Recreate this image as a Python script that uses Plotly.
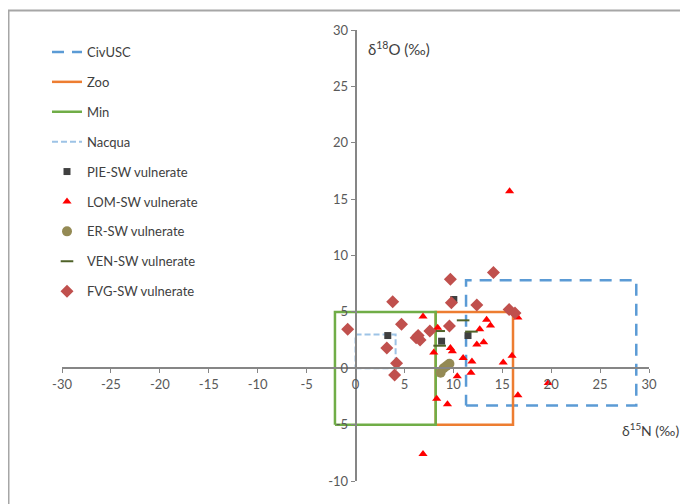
import plotly.graph_objects as go

# ---- data ----
civusc_x = [11.3, 28.7, 28.7, 11.3, 11.3]
civusc_y = [-3.3, -3.3, 7.8, 7.8, -3.3]
zoo_x = [8.2, 16.1, 16.1, 8.2, 8.2]
zoo_y = [-5, -5, 5, 5, -5]
min_x = [-2.1, 8.2, 8.2, -2.1, -2.1]
min_y = [-5, -5, 5, 5, -5]
nacqua_x = [0, 4.1, 4.1, 0, 0]
nacqua_y = [0, 0, 3, 3, 0]

pie_x = [3.3, 8.8, 11.5, 10.05]
pie_y = [2.9, 2.4, 2.9, 6.1]

lom_x = [6.9, 8.4, 8.0, 9.7, 9.9, 11.0, 11.9, 15.1, 16.0, 12.4, 13.1, 12.7, 13.4, 13.8,
         16.6, 10.4, 11.8, 8.3, 9.4, 16.6, 19.7, 6.9, 15.75]
lom_y = [4.6, 3.6, 1.4, 1.8, 1.5, 0.9, 0.6, 0.5, 1.1, 2.1, 2.3, 3.45, 4.3, 3.8,
         4.5, -0.7, -0.4, -2.7, -3.2, -2.4, -1.3, -7.6, 15.7]

er_x = [8.7, 9.0, 9.3, 9.6]
er_y = [-0.4, 0.0, 0.2, 0.4]

ven_x = [8.5, 8.6, 11.0, 11.85]
ven_y = [3.3, 2.0, 4.25, 3.25]

fvg_x = [-0.8, 3.8, 4.7, 3.2, 4.2, 4.0, 6.2, 6.6, 6.4, 7.6, 9.7, 9.8, 9.6, 12.4, 14.1, 15.7, 16.3]
fvg_y = [3.45, 5.9, 3.9, 1.8, 0.45, -0.6, 2.7, 2.5, 2.9, 3.3, 7.9, 5.8, 3.75, 5.6, 8.5, 5.2, 4.9]

x_ticks = [-30, -25, -20, -15, -10, -5, 0, 5, 10, 15, 20, 25, 30]
y_ticks = [-10, -5, 0, 5, 10, 15, 20, 25, 30]

FONT = "Lato"
TXT = "#404040"
W, H = 688, 504
# plot-area pixel box (figure coordinates; page adds an 8px body margin)
PL, PR, PT, PB = 54, 641, 22, 473
xdom = [PL / W, PR / W]
ydom = [(H - PB) / H, (H - PT) / H]

fig = go.Figure()
fig.add_trace(go.Scatter(x=civusc_x, y=civusc_y, mode="lines", name="CivUSC",
                         line=dict(color="#5B9BD5", width=2.5, dash="12px,8px"), legendgroup="a"))
fig.add_trace(go.Scatter(x=zoo_x, y=zoo_y, mode="lines", name="Zoo",
                         line=dict(color="#ED7D31", width=2.5), legendgroup="b"))
fig.add_trace(go.Scatter(x=min_x, y=min_y, mode="lines", name="Min",
                         line=dict(color="#70AD47", width=2.5), legendgroup="c"))
fig.add_trace(go.Scatter(x=nacqua_x, y=nacqua_y, mode="lines", name="Nacqua",
                         line=dict(color="#9DC3E6", width=2, dash="6px,3px"), legendgroup="d"))
fig.add_trace(go.Scatter(x=pie_x, y=pie_y, mode="markers", name="PIE-SW vulnerate",
                         marker=dict(symbol="square", size=7, color="#404040"), legendgroup="e"))
fig.add_trace(go.Scatter(x=lom_x, y=lom_y, mode="markers", name="LOM-SW vulnerate",
                         marker=dict(symbol="triangle-up", size=8, color="#FF0000"), legendgroup="f"))
fig.add_trace(go.Scatter(x=er_x, y=er_y, mode="markers", name="ER-SW vulnerate",
                         marker=dict(symbol="circle", size=10, color="#948A54"), legendgroup="g"))
fig.add_trace(go.Scatter(x=ven_x, y=ven_y, mode="markers", name="VEN-SW vulnerate",
                         marker=dict(symbol="line-ew", size=9, color="#4F6228",
                                     line=dict(color="#4F6228", width=2)), legendgroup="h"))
fig.add_trace(go.Scatter(x=fvg_x, y=fvg_y, mode="markers", name="FVG-SW vulnerate",
                         marker=dict(symbol="diamond", size=10, color="#C0504D"), legendgroup="i"))

axis_common = dict(showgrid=False, zeroline=False, showline=True, linecolor="#868686",
                   linewidth=1.5, ticks="outside", ticklen=4, tickcolor="#868686",
                   tickfont=dict(family=FONT, size=13, color="#595959"))

fig.update_layout(
    width=W, height=H,
    margin=dict(l=0, r=0, t=0, b=0, autoexpand=False),
    paper_bgcolor="white", plot_bgcolor="rgba(0,0,0,0)",
    xaxis=dict(range=[-30, 30], tickvals=x_ticks, ticktext=[str(v) for v in x_ticks],
               anchor="free", position=ydom[0] + 0.25 * (ydom[1] - ydom[0]),
               domain=xdom, **axis_common),
    yaxis=dict(range=[-10, 30], tickvals=y_ticks, ticktext=[str(v) for v in y_ticks],
               anchor="free", position=xdom[0] + 0.5 * (xdom[1] - xdom[0]),
               domain=ydom, **axis_common),
    legend=dict(x=39 / W, y=(H - 29) / H, xanchor="left", yanchor="top",
                font=dict(family=FONT, size=13, color=TXT),
                bgcolor="rgba(0,0,0,0)", tracegroupgap=10, traceorder="grouped"),
    showlegend=True,
    font=dict(family=FONT, color=TXT),
)

fig.add_annotation(text="δ<sup>15</sup>N (‰)", xref="paper", yref="paper", x=642 / W, y=(H - 421) / H,
                   showarrow=False, xanchor="center", yanchor="middle",
                   font=dict(family=FONT, size=14, color=TXT))
fig.add_annotation(text="δ<sup>18</sup>O (‰)", xref="x", yref="y", x=4.4, y=28.4,
                   showarrow=False, xanchor="center", yanchor="middle",
                   font=dict(family=FONT, size=15, color=TXT))

# outer chart border (paper coordinates)
fig.add_shape(type="rect", xref="paper", yref="paper", x0=0.5 / W, y0=-0.1, x1=1.1, y1=(H - 2.5) / H,
              line=dict(color="#A6A6A6", width=2), layer="below")

fig.write_html("out.html")
